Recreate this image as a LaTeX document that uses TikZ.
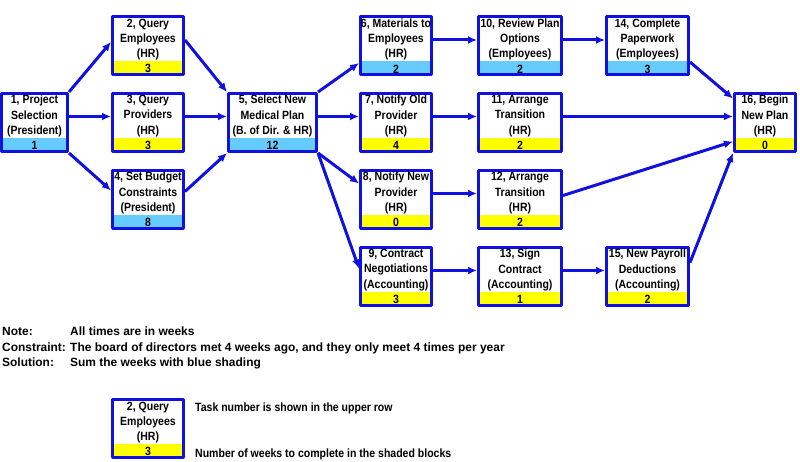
\documentclass[tikz,border=0pt]{standalone}
\usepackage{fontspec}
\setmainfont{Liberation Sans}
\newfontfamily\chartfont[FakeStretch=0.88]{Liberation Sans}
\usetikzlibrary{arrows.meta}
\definecolor{taskblue}{RGB}{16,16,224}
\definecolor{critblue}{RGB}{102,204,255}
\definecolor{slackyellow}{RGB}{255,255,0}
\tikzset{
  task/.style={draw=taskblue, line width=3bp, fill=white, inner sep=0pt,
    minimum width=#1, minimum height=58bp, align=center,
    font=\chartfont\bfseries\fontsize{12}{15.3}\selectfont},
  task/.default=71bp,
  weeks/.style={path picture={\fill[#1] (path picture bounding box.south west)
    rectangle ([yshift=13.5bp]path picture bounding box.south east);}},
  link/.style={->, draw=taskblue, line width=3bp},
  note/.style={anchor=base west, inner sep=0pt,
    font=\bfseries\fontsize{12}{15}\selectfont},
  keynote/.style={note, font=\chartfont\bfseries\fontsize{12}{15}\selectfont}
}
\begin{document}
\begin{tikzpicture}[>={Latex[length=9bp,width=8bp]},line join=bevel]
  \useasboundingbox (0bp,0bp) rectangle (800bp,462bp);
%%
  % Node: 1
  \node [task=66bp, weeks=critblue] (t1) at (34.5bp,339.5bp) {1, Project\\Selection\\(President)\\1};
  % Node: 2
  \node [task, weeks=slackyellow] (t2) at (148bp,416bp) {2, Query\\Employees\\(HR)\\3};
  % Node: 3
  \node [task, weeks=slackyellow] (t3) at (148bp,339.5bp) {3, Query\\Providers\\(HR)\\3};
  % Node: 4
  \node [task, weeks=critblue] (t4) at (148bp,262.5bp) {4, Set Budget\\Constraints\\(President)\\8};
  % Node: 5
  \node [task=88bp, weeks=critblue] (t5) at (272.5bp,339.5bp) {5, Select New\\Medical Plan\\(B. of Dir. \& HR)\\12};
  % Node: 6
  \node [task, weeks=critblue] (t6) at (396bp,416bp) {6, Materials to\\Employees\\(HR)\\2};
  % Node: 7
  \node [task, weeks=slackyellow] (t7) at (396bp,339.5bp) {7, Notify Old\\Provider\\(HR)\\4};
  % Node: 8
  \node [task, weeks=slackyellow] (t8) at (396bp,262.5bp) {8, Notify New\\Provider\\(HR)\\0};
  % Node: 9
  \node [task, weeks=slackyellow] (t9) at (396bp,185.5bp) {9, Contract\\Negotiations\\(Accounting)\\3};
  % Node: 10
  \node [task=83bp, weeks=critblue] (t10) at (520bp,416bp) {10, Review Plan\\Options\\(Employees)\\2};
  % Node: 11
  \node [task=83bp, weeks=slackyellow] (t11) at (520bp,339.5bp) {11, Arrange\\Transition\\(HR)\\2};
  % Node: 12
  \node [task=83bp, weeks=slackyellow] (t12) at (520bp,262.5bp) {12, Arrange\\Transition\\(HR)\\2};
  % Node: 13
  \node [task=83bp, weeks=slackyellow] (t13) at (520bp,185.5bp) {13, Sign\\Contract\\(Accounting)\\1};
  % Node: 14
  \node [task=82bp, weeks=critblue] (t14) at (647.5bp,416bp) {14, Complete\\Paperwork\\(Employees)\\3};
  % Node: 15
  \node [task=82bp, weeks=slackyellow] (t15) at (647.5bp,185.5bp) {15, New Payroll\\Deductions\\(Accounting)\\2};
  % Node: 16
  \node [task=61bp, weeks=slackyellow] (t16) at (765bp,339.5bp) {16, Begin\\New Plan\\(HR)\\0};
%%
  % Edge: 1 -> 2
  \draw [link] (t1.north east) -- ([yshift=4bp]t2.west);
  % Edge: 1 -> 3
  \draw [link] ([yshift=6bp]t1.east) -- ([yshift=6bp]t3.west);
  % Edge: 1 -> 4
  \draw [link] (t1.south east) -- ([yshift=9bp]t4.west);
  % Edge: 2 -> 5
  \draw [link] ([yshift=6bp]t2.east) -- (t5.north west);
  % Edge: 3 -> 5
  \draw [link] ([yshift=6bp]t3.east) -- ([yshift=6bp]t5.west);
  % Edge: 4 -> 5
  \draw [link] ([yshift=8bp]t4.east) -- (t5.south west);
  % Edge: 5 -> 6
  \draw [link] (t5.north east) -- ([yshift=-17bp]t6.west);
  % Edge: 5 -> 7
  \draw [link] ([yshift=6bp]t5.east) -- ([yshift=6bp]t7.west);
  % Edge: 5 -> 8
  \draw [link] (t5.south east) -- ([yshift=16bp]t8.west);
  % Edge: 5 -> 9
  \draw [link] (t5.south east) -- ([yshift=8bp]t9.west);
  % Edge: 6 -> 10
  \draw [link] ([yshift=6bp]t6.east) -- ([yshift=6bp]t10.west);
  % Edge: 7 -> 11
  \draw [link] ([yshift=6bp]t7.east) -- ([yshift=6bp]t11.west);
  % Edge: 8 -> 12
  \draw [link] ([yshift=6bp]t8.east) -- ([yshift=6bp]t12.west);
  % Edge: 9 -> 13
  \draw [link] ([yshift=6bp]t9.east) -- ([yshift=6bp]t13.west);
  % Edge: 10 -> 14
  \draw [link] ([yshift=6bp]t10.east) -- ([yshift=6bp]t14.west);
  % Edge: 13 -> 15
  \draw [link] ([yshift=6bp]t13.east) -- ([yshift=6bp]t15.west);
  % Edge: 14 -> 16
  \draw [link] ([yshift=-16bp]t14.east) -- ([yshift=24bp]t16.west);
  % Edge: 11 -> 16
  \draw [link] ([yshift=6bp]t11.east) -- ([yshift=6bp]t16.west);
  % Edge: 12 -> 16
  \draw [link] ([yshift=4bp]t12.east) -- ([yshift=-19bp]t16.west);
  % Edge: 15 -> 16
  \draw [link] ([yshift=14bp]t15.east) -- (t16.south west);
%%
  % Notes
  \node [note] (notehead) at (2bp,126bp) {Note:};
  \node [note] (notetext) at (70bp,126bp) {All times are in weeks};
  \node [note] (rulehead) at (2bp,110bp) {Constraint:};
  \node [note] (ruletext) at (70bp,110bp) {The board of directors met 4 weeks ago, and they only meet 4 times per year};
  \node [note] (fixhead) at (2bp,95bp) {Solution:};
  \node [note] (fixtext) at (70bp,95bp) {Sum the weeks with blue shading};
  % Node: key
  \node [task, weeks=slackyellow] (key) at (148bp,33bp) {2, Query\\Employees\\(HR)\\3};
  \node [keynote] (keytop) at (195bp,50bp) {Task number is shown in the upper row};
  \node [keynote] (keybottom) at (195bp,5bp) {Number of weeks to complete in the shaded blocks};
%
\end{tikzpicture}
\end{document}
